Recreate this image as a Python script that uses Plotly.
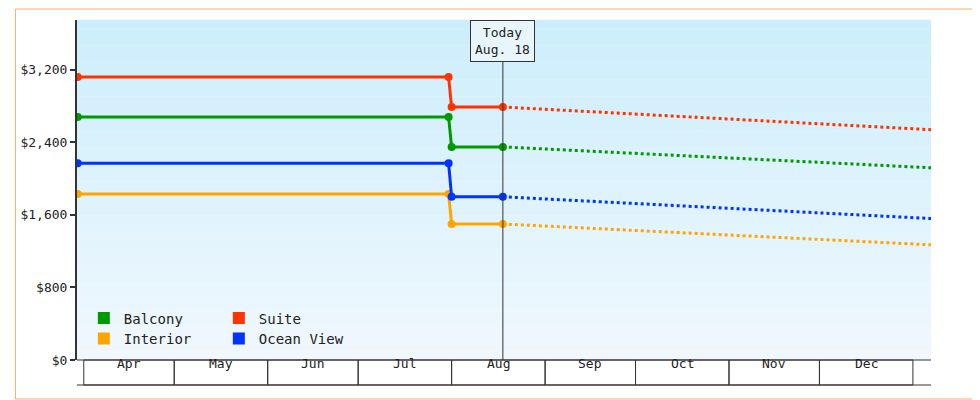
import plotly.graph_objects as go
import pandas as pd

# price history + forecast per cabin class
cabins = ["Balcony", "Suite", "Interior", "Ocean View"]
colors = {"Balcony": "#009900", "Suite": "#ff3300", "Interior": "#ffa500", "Ocean View": "#0033ff"}
hist_dates = ["2024-03-30", "2024-07-31", "2024-08-01", "2024-08-18"]
fcst_dates = ["2024-08-18", "2025-01-07"]
hist_prices = {
    "Balcony": [2680, 2680, 2350, 2350],
    "Suite": [3120, 3120, 2790, 2790],
    "Interior": [1830, 1830, 1500, 1500],
    "Ocean View": [2170, 2170, 1800, 1800],
}
fcst_prices = {
    "Balcony": [2350, 2120],
    "Suite": [2790, 2540],
    "Interior": [1500, 1270],
    "Ocean View": [1800, 1560],
}
months = ["Apr", "May", "Jun", "Jul", "Aug", "Sep", "Oct", "Nov", "Dec"]
month_starts = pd.date_range("2024-04-01", periods=10, freq="MS")
today = "2024-08-18"
y_ticks = [0, 800, 1600, 2400, 3200]

font = "DejaVu Sans Mono"
fig = go.Figure()
for c in cabins:
    fig.add_trace(go.Scatter(x=hist_dates, y=hist_prices[c], mode="lines+markers",
                             line=dict(color=colors[c], width=3), marker=dict(size=8, color=colors[c]),
                             showlegend=False))
    fig.add_trace(go.Scatter(x=fcst_dates, y=fcst_prices[c], mode="lines",
                             line=dict(color=colors[c], width=3, dash="dot"), showlegend=False))
# legend entries (square swatches), two rows
for i, c in enumerate(cabins):
    fig.add_trace(go.Scatter(x=[None], y=[None], mode="markers", name=c,
                             marker=dict(symbol="square", size=12, color=colors[c]),
                             legend="legend" if i < 2 else "legend2"))

W, H = 860, 340
shapes = []
# gradient background
n = 40
for k in range(n):
    t = k / n
    r = int(204 + (240 - 204) * (1 - t))
    g = int(238 + (248 - 238) * (1 - t))
    b = int(252 + (254 - 252) * (1 - t))
    shapes.append(dict(type="rect", xref="paper", yref="paper", x0=0, x1=1, y0=t, y1=t + 1 / n + 0.001,
                       fillcolor=f"rgb({r},{g},{b})", line=dict(width=0), layer="below"))
# month boxes
bh = 25 / H
for i in range(len(months)):
    shapes.append(dict(type="rect", xref="x", yref="paper", x0=month_starts[i], x1=month_starts[i + 1],
                       y0=-bh, y1=0, line=dict(color="#333", width=1)))
shapes.append(dict(type="line", xref="paper", yref="paper", x0=0, x1=1, y0=-bh, y1=-bh,
                   line=dict(color="#333", width=1)))
shapes.append(dict(type="line", xref="paper", yref="paper", x0=0, x1=1, y0=0, y1=0,
                   line=dict(color="#333", width=1)))
# today line
shapes.append(dict(type="line", xref="x", yref="paper", x0=today, x1=today, y0=0, y1=1,
                   line=dict(color="#333", width=1)))
# outer border
shapes.append(dict(type="rect", xref="paper", yref="paper", x0=-62 / W, x1=1 + 48 / W,
                   y0=-39 / H, y1=1 + 11 / H, line=dict(color="#f0b070", width=1)))

ann = []
for i, m in enumerate(months):
    mid = month_starts[i] + (month_starts[i + 1] - month_starts[i]) / 2
    ann.append(dict(x=mid, y=-bh / 2, xref="x", yref="paper", text=m, showarrow=False,
                    font=dict(family=font, size=13, color="#222")))
ann.append(dict(x=today, y=1, xref="x", yref="paper", yanchor="top", text="Today<br>Aug. 18",
                showarrow=False, bgcolor="#e8f6fc", bordercolor="#333", borderwidth=1, borderpad=4,
                font=dict(family=font, size=13, color="#222")))

fig.update_layout(
    width=980, height=400, margin=dict(l=63, r=57, t=12, b=48),
    paper_bgcolor="white", plot_bgcolor="rgba(0,0,0,0)",
    font=dict(family=font, size=13, color="#222"),
    shapes=shapes, annotations=ann,
    xaxis=dict(range=["2024-03-29 18:00", "2025-01-07"], showticklabels=False, showgrid=False,
               zeroline=False, ticks=""),
    yaxis=dict(range=[0, 3750], tickvals=y_ticks, ticktext=[f"${v:,}" for v in y_ticks],
               showgrid=False, zeroline=False, showline=True, linecolor="#333", linewidth=2,
               ticks="outside", ticklen=5, tickwidth=2, tickcolor="#333"),
    legend=dict(orientation="h", x=0.008, y=0.075, xanchor="left", yanchor="bottom",
                bgcolor="rgba(0,0,0,0)", entrywidth=90, itemwidth=30, font=dict(family=font, size=14)),
    legend2=dict(orientation="h", x=0.008, y=0.015, xanchor="left", yanchor="bottom",
                 bgcolor="rgba(0,0,0,0)", entrywidth=90, itemwidth=30, font=dict(family=font, size=14)),
)
fig.write_html("out.html")
